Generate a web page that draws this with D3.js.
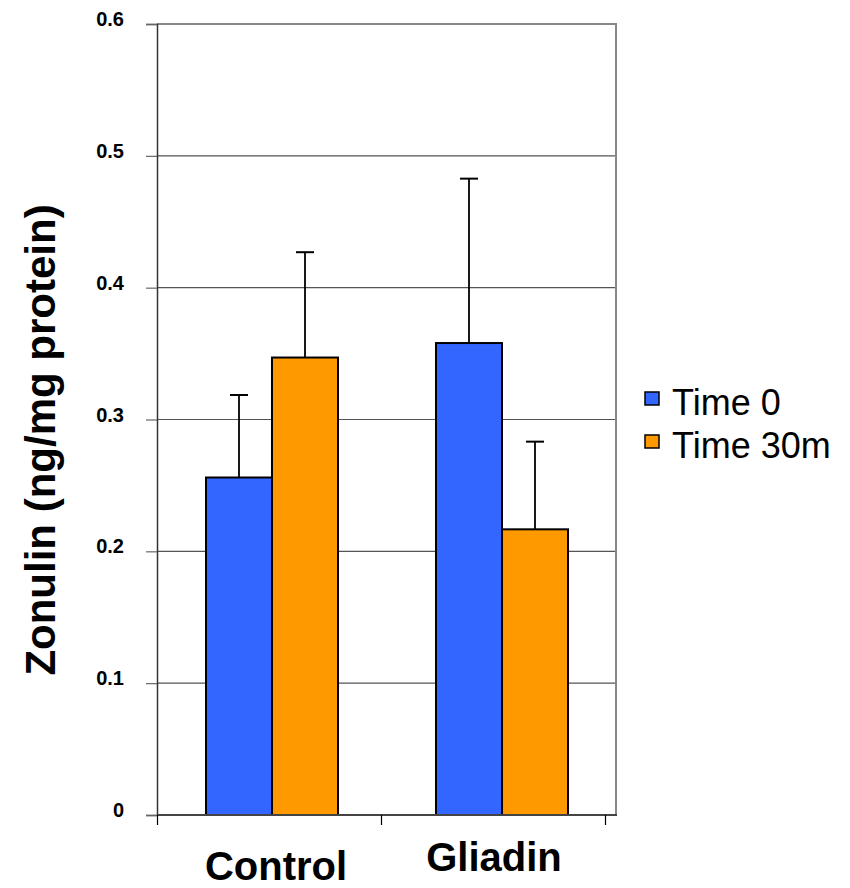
<!DOCTYPE html>
<html><head><meta charset="utf-8">
<script src="https://cdn.jsdelivr.net/npm/d3@7"></script>
<style>body{margin:0;background:#fff}svg{display:block}text{font-family:Arial,"Liberation Sans",sans-serif}</style>
</head><body>
<svg id="c" width="850" height="888"></svg>
<script>
const categories = ["Control", "Gliadin"];
const seriesNames = ["Time 0", "Time 30m"];
const seriesColors = ["#3366FF", "#FF9900"];
const time0 = [0.256, 0.358];
const time0Err = [0.0626, 0.1247];
const time30 = [0.347, 0.2167];
const time30Err = [0.0799, 0.0665];
const yTicks = [0, 0.1, 0.2, 0.3, 0.4, 0.5, 0.6];
const yTitle = "Zonulin (ng/mg protein)";

const svg = d3.select("#c");
const L = 157, R = 617, T = 24, B = 815;
const y = d3.scaleLinear().domain([0, 0.6]).range([B, T]);
const x0 = d3.scaleBand().domain(categories).range([L, R]);
const x1 = d3.scaleBand().domain(seriesNames).range([49, 181]);

// gridlines
svg.append("g").selectAll("line").data(yTicks.filter(d => d > 0)).join("line")
  .attr("x1", L).attr("x2", R).attr("y1", d => y(d)).attr("y2", d => y(d))
  .attr("stroke", (d, i) => d === 0.6 ? "#888" : "#555").attr("stroke-width", d => d === 0.6 ? 2 : 1.2);
// right border
svg.append("line").attr("x1", R - 1).attr("x2", R - 1).attr("y1", T).attr("y2", B)
  .attr("stroke", "#888").attr("stroke-width", 2);

// y axis
const yAxis = svg.append("g").attr("transform", `translate(${L},0)`)
  .call(d3.axisLeft(y).tickValues(yTicks).tickSize(11).tickPadding(22).tickFormat(d => d === 0 ? "0" : d3.format(".1f")(d)));
yAxis.select(".domain").attr("stroke", "#333").attr("stroke-width", 1.5);
yAxis.selectAll(".tick line").attr("stroke", "#666").attr("stroke-width", 1.2);
yAxis.selectAll("text").attr("font-size", 20).attr("font-weight", "bold").attr("fill", "#000")
  .attr("dy", "0.08em")
  .attr("font-family", "Arial, 'Liberation Sans', sans-serif");

// bars
const data = categories.map((c, i) => ({
  cat: c,
  vals: [
    { s: seriesNames[0], v: time0[i], e: time0Err[i], c: seriesColors[0] },
    { s: seriesNames[1], v: time30[i], e: time30Err[i], c: seriesColors[1] }
  ]
}));
const groups = svg.append("g").selectAll("g").data(data).join("g")
  .attr("transform", d => `translate(${x0(d.cat)},0)`);
// error bars
groups.selectAll(".err").data(d => d.vals).join("g").attr("class", "err").each(function(d) {
  const g = d3.select(this);
  const cx = x1(d.s) + x1.bandwidth() / 2;
  g.append("line").attr("x1", cx).attr("x2", cx).attr("y1", y(d.v)).attr("y2", y(d.v + d.e))
    .attr("stroke", "#000").attr("stroke-width", 1.8);
  g.append("line").attr("x1", cx - 9).attr("x2", cx + 9).attr("y1", y(d.v + d.e)).attr("y2", y(d.v + d.e))
    .attr("stroke", "#000").attr("stroke-width", 2);
});
groups.selectAll("rect").data(d => d.vals).join("rect")
  .attr("x", d => x1(d.s)).attr("width", x1.bandwidth())
  .attr("y", d => y(d.v)).attr("height", d => y(0) - y(d.v))
  .attr("fill", d => d.c).attr("stroke", "#000").attr("stroke-width", 2);

// x axis
const xTick = d3.scaleLinear().domain([0, categories.length]).range([L, 605]);
const xAxis = svg.append("g").attr("transform", `translate(0,${B})`)
  .call(d3.axisBottom(xTick).tickValues(d3.range(categories.length + 1)).tickSize(10).tickFormat(""));
xAxis.select(".domain").attr("stroke", "#444").attr("stroke-width", 2).attr("d", `M${L},0H${R}`);
xAxis.selectAll(".tick line").attr("stroke", "#000").attr("stroke-width", 1.2);

// category labels
const labelBaselines = [880, 871];
svg.append("g").selectAll("text").data(categories).join("text")
  .attr("x", (d, i) => x0(d) + x0.bandwidth() / 2 + (i === 0 ? 4 : -8))
  .attr("y", (d, i) => labelBaselines[i])
  .attr("text-anchor", "middle").attr("font-size", 40).attr("font-weight", "bold").text(d => d);

// y title
svg.append("text").attr("transform", "translate(55,440) rotate(-90)")
  .attr("text-anchor", "middle").attr("font-size", 42).attr("font-weight", "bold").text(yTitle);

// legend
const leg = svg.append("g").selectAll("g").data(seriesNames).join("g")
  .attr("transform", (d, i) => `translate(645,${392 + i * 43})`);
leg.append("rect").attr("width", 14).attr("height", 13)
  .attr("fill", (d, i) => seriesColors[i]).attr("stroke", "#000").attr("stroke-width", 1.5);
leg.append("text").attr("x", 27).attr("y", 23).attr("font-size", 36).text(d => d);
</script>
</body></html>
